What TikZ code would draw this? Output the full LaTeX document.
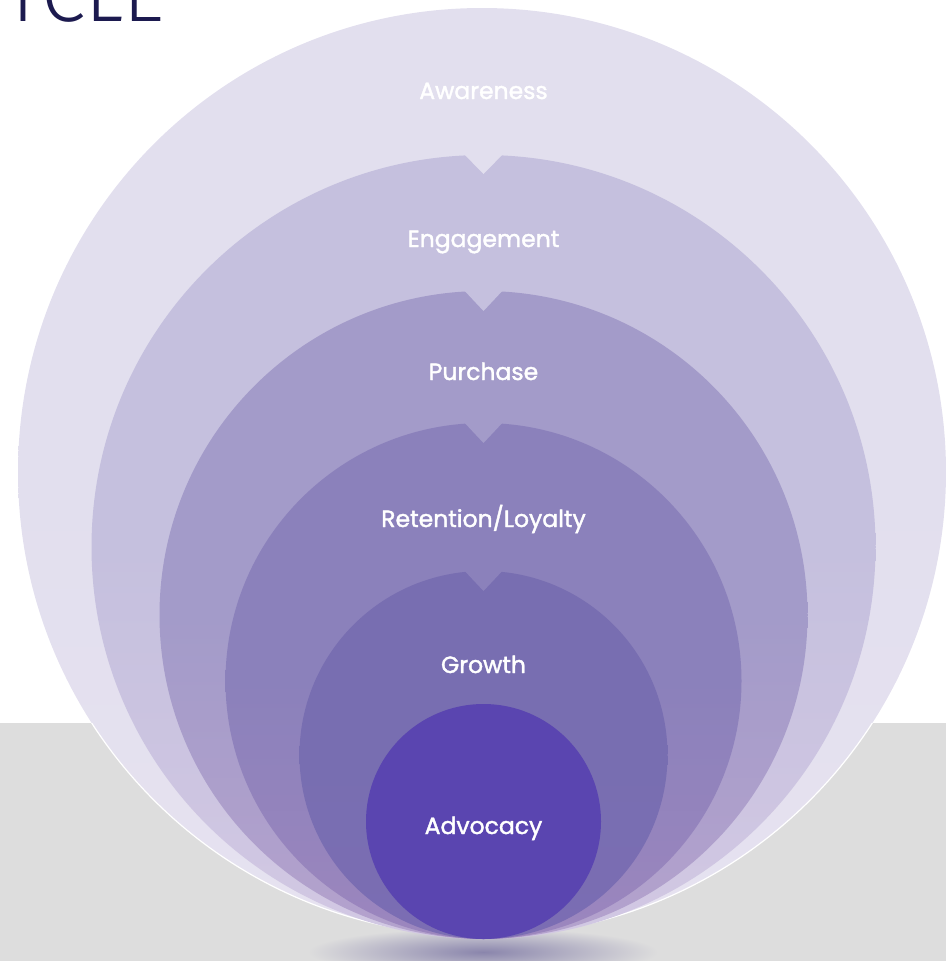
\documentclass[tikz,border=0pt]{standalone}
\usepackage{fontspec}
\setmainfont{Poppins}
\newfontfamily\stagefont{Poppins}[FakeBold=1.6]
\newfontfamily\titlefont{Fira Sans Light}
\definecolor{ground}{HTML}{DDDDDD}
\definecolor{shadow}{HTML}{8A85AC}
\definecolor{awaretop}{HTML}{E2DFEE}
\definecolor{awarebot}{HTML}{E6E2F0}
\definecolor{engagetop}{HTML}{C5C0DE}
\definecolor{engagebot}{HTML}{D2C8E3}
\definecolor{buytop}{HTML}{A39BC9}
\definecolor{buybot}{HTML}{B4A2CD}
\definecolor{retaintop}{HTML}{8B81BB}
\definecolor{retainbot}{HTML}{9C86BE}
\definecolor{growtop}{HTML}{786EB1}
\definecolor{growbot}{HTML}{7B6DB3}
\definecolor{advocacy}{HTML}{5A45B0}
\definecolor{titleink}{HTML}{1C1A4F}
\tikzstyle{stage}=[text=white, anchor=base, font=\stagefont\fontsize{23.5}{28}\selectfont]
\tikzstyle{heading}=[text=titleink, anchor=base east, inner sep=0pt, font=\titlefont\fontsize{80}{90}\selectfont]

\begin{document}
\begin{tikzpicture}[x=1pt, y=-1pt]
    \useasboundingbox (0,0) rectangle (946,961);
    \clip (0,0) rectangle (946,961);
    \node[heading] (title) at (165,21) {YCLE};
    % floor and shadow
    \fill[ground] (0,723) rectangle (946,961);
    \shade[inner color=shadow, outer color=ground] (483,952) ellipse (175pt and 24pt);
    % rings, outer to inner
    \shade[top color=awaretop, bottom color=awarebot, middle color=awaretop] (482,472) circle (464pt);
    \begin{scope}
        \clip (0,723) rectangle (946,961);
        \draw[white, line width=1.2pt] (482,472) circle (464pt);
    \end{scope}
    \shade[top color=engagetop, bottom color=engagebot, middle color=engagetop] (483.5,547) circle (392pt);
    \fill[awaretop] (461,151) -- (506,151) -- (483.5,174) -- cycle;
    \shade[top color=buytop, bottom color=buybot, middle color=buytop] (483.5,615) circle (324pt);
    \fill[engagetop] (461,287) -- (506,287) -- (483.5,311) -- cycle;
    \shade[top color=retaintop, bottom color=retainbot, middle color=retaintop] (483.5,681) circle (258pt);
    \fill[buytop] (461,419) -- (506,419) -- (483.5,443) -- cycle;
    \shade[top color=growtop, bottom color=growbot, middle color=growtop] (483.5,755) circle (184pt);
    \fill[retaintop] (461,567) -- (506,567) -- (483.5,591) -- cycle;
    \fill[advocacy] (483.5,821.5) circle (117.5pt);
    % labels
    \node[stage] (awareness) at (483.5,99) {Awareness};
    \node[stage] (engagement) at (483.5,247) {Engagement};
    \node[stage] (purchase) at (483.5,380) {Purchase};
    \node[stage] (retention) at (483.5,527) {Retention/Loyalty};
    \node[stage] (growth) at (483.5,673) {Growth};
    \node[stage] (advocacy) at (483.5,834) {Advocacy};
\end{tikzpicture}
\end{document}
